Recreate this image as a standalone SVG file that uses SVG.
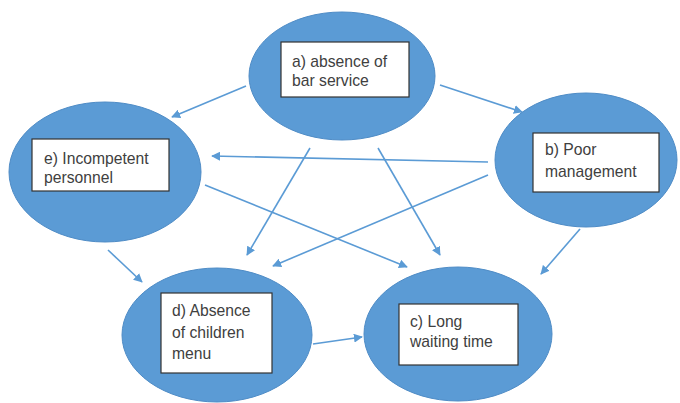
<svg xmlns="http://www.w3.org/2000/svg" width="680" height="403" viewBox="0 0 680 403">
<defs>
<marker id="ah" viewBox="0 0 10 10" refX="9" refY="5" markerWidth="9" markerHeight="9" markerUnits="userSpaceOnUse" orient="auto">
<path d="M0,0 L10,5 L0,10 z" fill="#5B9BD5"/>
</marker>
<style>
.node ellipse{fill:#5B9BD5;stroke:#4F8CC6;stroke-width:1}
.node rect{fill:#ffffff;stroke:#333333;stroke-width:1.2}
.node text{font-family:"Liberation Sans",Arial,sans-serif;font-size:15.7px;fill:#404040}
.conn line{stroke:#5B9BD5;stroke-width:1.6;marker-end:url(#ah)}
</style>
</defs>
<rect width="680" height="403" fill="#ffffff"/>
<g id="connectors" class="conn">
<line x1="246" y1="86" x2="172" y2="117"/>
<line x1="440" y1="85" x2="522" y2="112"/>
<line x1="488" y1="162" x2="212" y2="156"/>
<line x1="488" y1="175" x2="273" y2="266"/>
<line x1="580" y1="229" x2="541" y2="274"/>
<line x1="108" y1="250" x2="142" y2="282"/>
<line x1="205" y1="185" x2="407" y2="267"/>
<line x1="310" y1="148" x2="247" y2="255"/>
<line x1="378" y1="148" x2="440" y2="255"/>
<line x1="313" y1="344" x2="362" y2="337"/>
</g>
<g id="node-a" class="node">
<ellipse cx="342" cy="76" rx="93" ry="64"/>
<rect x="281" y="42" width="128" height="55"/>
<text x="292" y="67">a) absence of</text>
<text x="292" y="86">bar service</text>
</g>
<g id="node-b" class="node">
<ellipse cx="586" cy="160" rx="91" ry="67"/>
<rect x="533" y="133" width="126" height="59"/>
<text x="545" y="155">b) Poor</text>
<text x="545" y="177">management</text>
</g>
<g id="node-e" class="node">
<ellipse cx="105" cy="172" rx="96" ry="70"/>
<rect x="32" y="139" width="137" height="52"/>
<text x="44" y="164">e) Incompetent</text>
<text x="44" y="183">personnel</text>
</g>
<g id="node-d" class="node">
<ellipse cx="217" cy="335" rx="95" ry="67"/>
<rect x="161" y="293" width="111" height="80"/>
<text x="172" y="316">d) Absence</text>
<text x="172" y="338">of children</text>
<text x="172" y="359">menu</text>
</g>
<g id="node-c" class="node">
<ellipse cx="458" cy="334" rx="94" ry="67"/>
<rect x="399" y="304" width="119" height="61"/>
<text x="410" y="327">c) Long</text>
<text x="410" y="347">waiting time</text>
</g>
</svg>
